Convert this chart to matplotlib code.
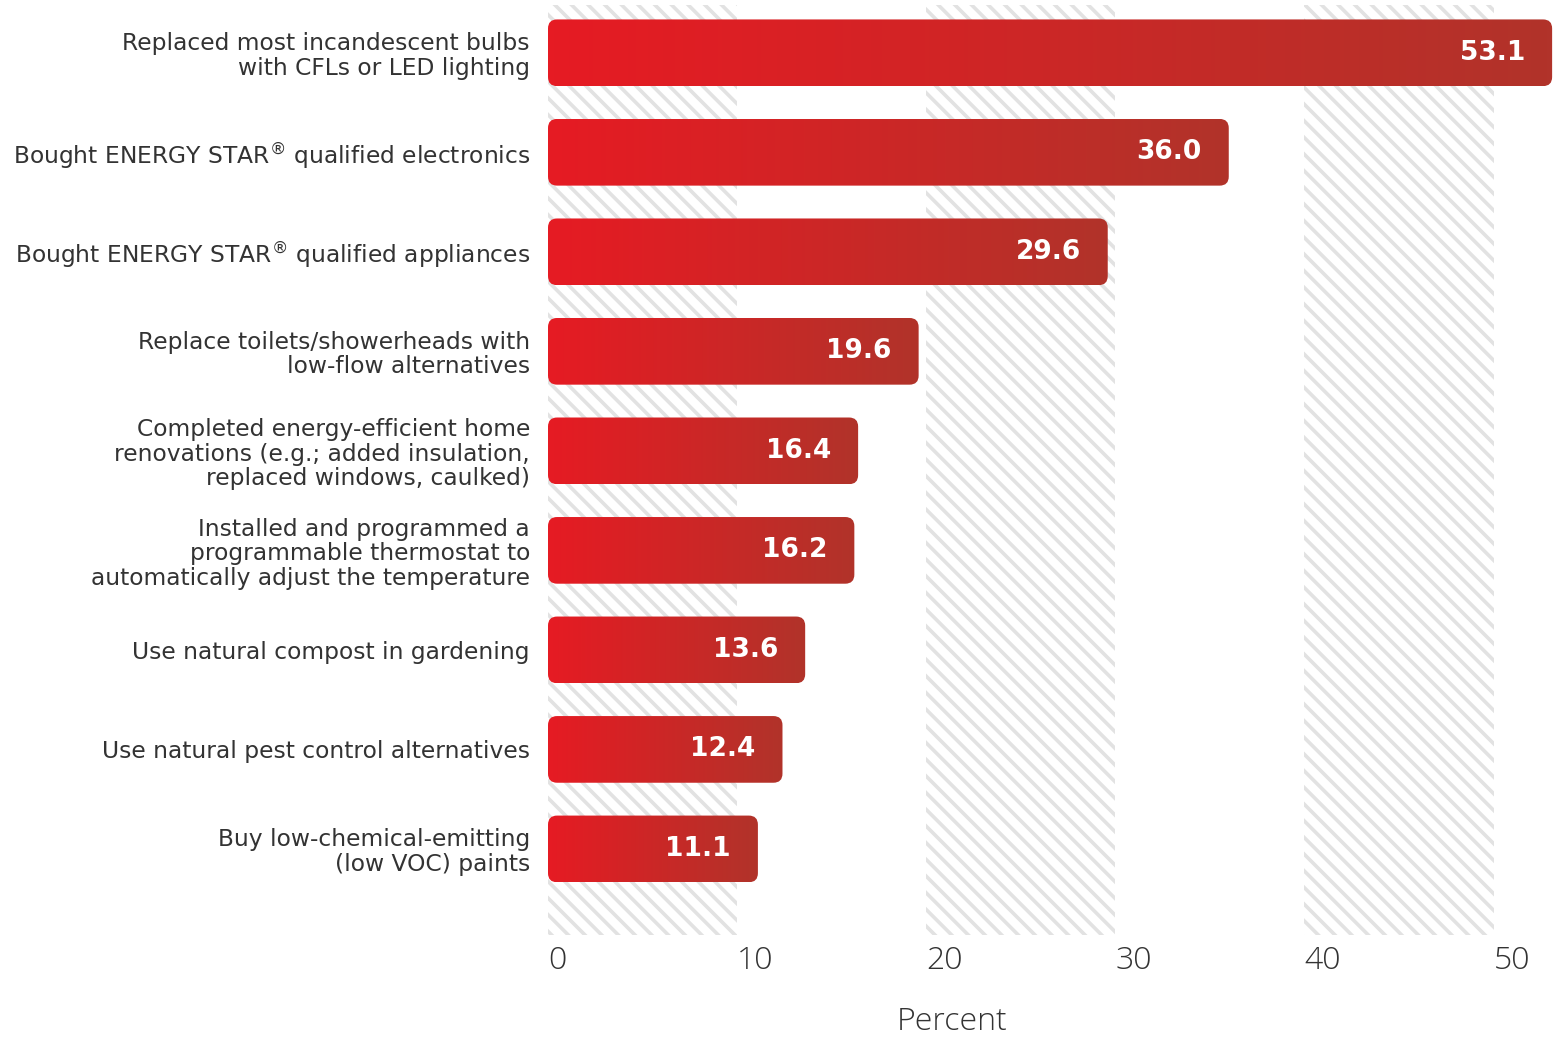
import numpy as np
import matplotlib.pyplot as plt
from matplotlib.patches import FancyBboxPatch, Rectangle
from matplotlib.colors import LinearSegmentedColormap

categories = [
    "Replaced most incandescent bulbs\nwith CFLs or LED lighting",
    r"Bought ENERGY STAR$^{\circledR}$ qualified electronics",
    r"Bought ENERGY STAR$^{\circledR}$ qualified appliances",
    "Replace toilets/showerheads with\nlow-flow alternatives",
    "Completed energy-efficient home\nrenovations (e.g.; added insulation,\nreplaced windows, caulked)",
    "Installed and programmed a\nprogrammable thermostat to\nautomatically adjust the temperature",
    "Use natural compost in gardening",
    "Use natural pest control alternatives",
    "Buy low-chemical-emitting\n(low VOC) paints",
]
values = [53.1, 36.0, 29.6, 19.6, 16.4, 16.2, 13.6, 12.4, 11.1]
ticks = [0, 10, 20, 30, 40, 50]
shaded = [(0, 10), (20, 30), (40, 50)]

plt.rcParams['font.family'] = ['Open Sans', 'DejaVu Sans']
plt.rcParams['hatch.linewidth'] = 2.6
plt.rcParams['mathtext.fontset'] = 'dejavusans'

W, H = 1554, 1037
fig = plt.figure(figsize=(W / 100, H / 100), dpi=100)
ax = fig.add_axes([548 / W, 102 / H, 1006 / W, 930 / H])

px_x = 18.91   # pixels per percent
px_y = 99.5    # pixels per bar slot
ax.set_xlim(0, 1006 / px_x)
ax.set_ylim(8.865, -0.48)

# striped background bands
for lo, hi in shaded:
    ax.add_patch(Rectangle((lo, 0), hi - lo, 1, transform=ax.get_xaxis_transform(),
                           facecolor='white', edgecolor='#e2e2e2', hatch='\\\\',
                           lw=0, zorder=0))

# gradient bars with rounded corners
cmap = LinearSegmentedColormap.from_list('bar', ['#e61b23', '#b1332a'])
grad = np.linspace(0, 1, 256).reshape(1, -1)
h = 0.67
aspect = (1 / px_y) / (1 / px_x)
for i, v in enumerate(values):
    box = FancyBboxPatch((0, i - h / 2), v, h,
                         boxstyle='round,pad=0,rounding_size=0.48',
                         mutation_aspect=aspect, facecolor='none',
                         edgecolor='none', zorder=2)
    ax.add_patch(box)
    im = ax.imshow(grad, extent=(0, v, i + h / 2, i - h / 2), cmap=cmap,
                   aspect='auto', interpolation='bilinear', zorder=2)
    im.set_clip_path(box)
    ax.annotate(f"{v:.1f}", (v, i), xytext=(-27, 0), textcoords='offset pixels',
                ha='right', va='center', color='white', fontsize=19,
                fontweight='bold', family=['DejaVu Sans'], zorder=3)

ax.set_xlim(0, 1006 / px_x)
ax.set_ylim(8.865, -0.48)

ax.set_yticks(range(len(categories)))
ax.set_yticklabels(categories, fontsize=16.8, color='#333333', linespacing=1.08,
                   family=['DejaVu Sans'])
ax.tick_params(axis='y', length=0, pad=13)

ax.set_xticks(ticks)
ax.set_xticklabels([str(t) for t in ticks], fontsize=23, color='#333333',
                   fontweight='light', ha='left')
ax.tick_params(axis='x', length=0, pad=7)

for s in ax.spines.values():
    s.set_visible(False)

fig.text(952 / W, 1 - 1022 / H, "Percent", fontsize=23, color='#333333',
         fontweight='light', ha='center', va='center')

fig.savefig('out.png', dpi=100)
